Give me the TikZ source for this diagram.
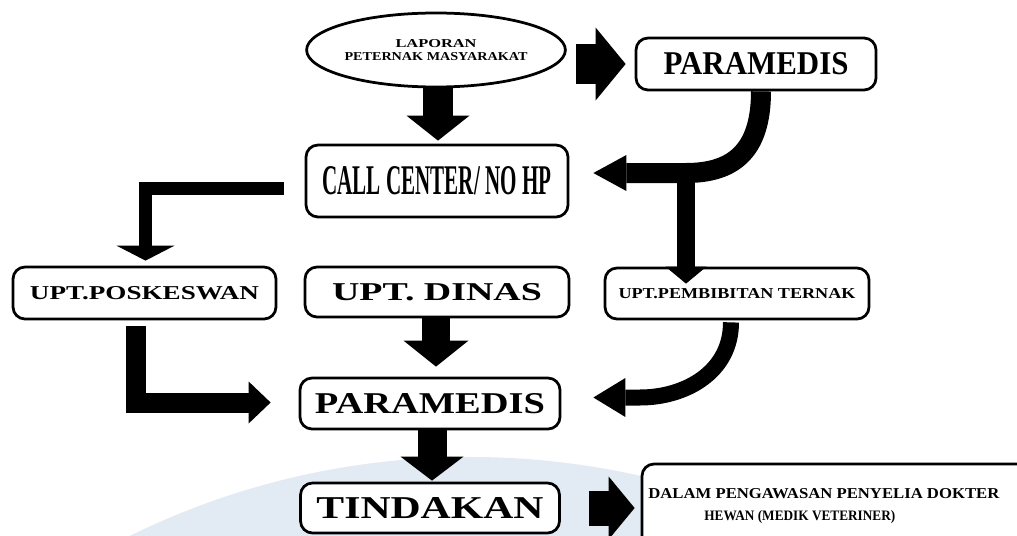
\documentclass[tikz,border=0pt]{standalone}
\usepackage{fontspec}
\setmainfont{Liberation Serif}
\usepackage{graphicx}
\usetikzlibrary{calc,shapes.geometric,arrows.meta}
\newlength\pxu
\setlength\pxu{0.2mm}
\def\fitted#1#2#3{\resizebox{#1\pxu}{#2\pxu}{\bfseries #3}}
\definecolor{wmark}{RGB}{226,234,243}
\tikzset{
	box/.style 2 args={draw, line width=0.55mm, rounded corners=2.4mm, fill=white, inner sep=0pt, minimum width=#1\pxu, minimum height=#2\pxu},
	oval/.style={draw, ellipse, line width=0.55mm, fill=white, inner sep=0pt, minimum width=242\pxu, minimum height=74\pxu, align=center, font=\fontsize{6}{7.4}\selectfont},
	blockarrow/.style n args={3}{line width=#1\pxu, line join=miter, -{Triangle[width=\the\dimexpr#2\pxu\relax, length=\the\dimexpr#3\pxu\relax, line width=0pt]}}
}

\begin{document}
\begin{tikzpicture}[x=0.2mm, y=-0.2mm]
	%%%%% START %%%%%
	\useasboundingbox (0, 0) rectangle (1017, 536);
	\clip (0, 0) rectangle (1017, 536);
	
	\fill[wmark] (470, 1228) circle (154.2mm);
	
	\node[oval] (lap) at (436, 50) {\fitted{81}{8}{LAPORAN}\\\fitted{183}{8}{PETERNAK MASYARAKAT}};
	\node[box={240}{52}] (paraTop) at (756, 64) {\fitted{185}{22}{PARAMEDIS}};
	\node[box={262}{72}] (call) at (437, 181) {\fitted{229}{28}{CALL CENTER/ NO HP}};
	
	\node[box={263}{52}] (posk) at (144.5, 293) {\fitted{229}{13}{UPT.POSKESWAN}};
	\node[box={264}{50}] (dinas) at (437, 292) {\fitted{210}{17}{UPT. DINAS}};
	\node[box={264}{51}] (bibit) at (737, 293.5) {\fitted{237}{10}{UPT.PEMBIBITAN TERNAK}};
	
	\node[box={260}{51}] (paraMid) at (430, 403.5) {\fitted{230}{20}{PARAMEDIS}};
	\node[box={259}{50}] (tind) at (430, 508) {\fitted{227}{21}{TINDAKAN}};
	
	\node[box={400}{100}] (dalam) at (842, 514) {};
	\node[anchor=west, align=left, inner sep=0pt, font=\fontsize{10}{12.5}\selectfont] (dalamtxt) at (648, 506) {\fitted{351}{10}{DALAM PENGAWASAN PENYELIA DOKTER}\\\hspace*{56\pxu}\fitted{191}{10}{HEWAN (MEDIK VETERINER)}};
	
	\coordinate (bend) at (686, 173);
	\coordinate (bend2) at (640, 397.5);
	
	% top row
	\draw[blockarrow={30}{63}{25}, shorten >=3\pxu] ($(lap.south)+(2,0)$) -- ($(call.north)+(1,0)$);
	\draw[blockarrow={40}{73}{30}, shorten <=9\pxu, shorten >=9\pxu] (lap.east |- paraTop.west) -- (paraTop.west);
	\draw[blockarrow={20}{36}{33}] ($(paraTop.south)+(5,0)$) .. controls +(0, 62) and +(45, 0) .. (bend) -- ($(call.east)+(24,-8)$);
	\draw[blockarrow={18}{41}{17}] (bend) -- ($(bend |- bibit.north)+(0,17)$);
	
	% middle row
	\draw[blockarrow={13}{58}{15}] ($(call.west)+(-21,7)$) -| ($(posk.north)+(1,-5)$);
	\draw[blockarrow={28}{65}{26}, shorten >=10\pxu] ($(dinas.south)+(-1,0)$) -- ($(dinas.south |- paraMid.north)+(-1,0)$);
	\draw[blockarrow={20}{42}{22}] ($(posk.south)+(-9,6)$) |- ($(paraMid.west)+(-28,-1)$);
	\draw[blockarrow={16}{39}{32}] ($(bibit.south)+(-6,2)$) .. controls +(0, 50) and +(45, 0) .. (bend2) -- ($(paraMid.east)+(32,-6)$);
	
	% bottom row
	\draw[blockarrow={29}{63}{24}, shorten >=1\pxu] ($(paraMid.south)+(2,0)$) -- ($(tind.north)+(2,0)$);
	\draw[blockarrow={35}{63}{26}, shorten <=28\pxu, shorten >=6\pxu] (tind.east) -- (tind.east -| dalam.west);
	
	%%%%% END %%%%%
\end{tikzpicture}
\end{document}
